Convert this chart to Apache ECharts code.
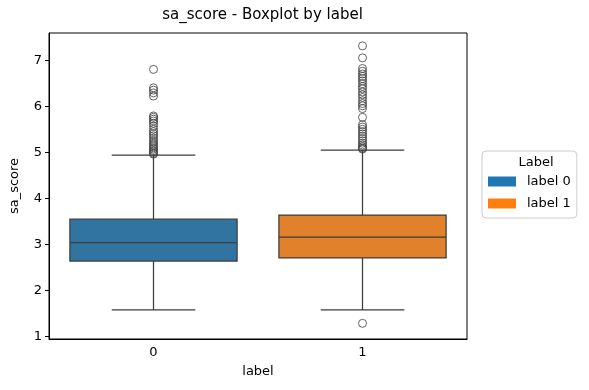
<!DOCTYPE html>
<html>
<head>
<meta charset="utf-8">
<script src="https://cdn.jsdelivr.net/npm/echarts@6/dist/echarts.min.js"></script>
<style>
html,body{margin:0;padding:0;background:#fff;}
#chart{width:589px;height:390px;}
</style>
</head>
<body>
<div id="chart"></div>
<script>
const categories = ['0', '1'];
const seriesNames = ['label 0', 'label 1'];
const legendColors = ['#1f77b4', '#ff7f0e'];
const boxFills = ['#3274a1', '#e1812c'];
const whiskerLow = [1.58, 1.58];
const q1 = [2.64, 2.71];
const median = [3.04, 3.16];
const q3 = [3.55, 3.64];
const whiskerHigh = [4.94, 5.05];
const outliers0 = [6.80, 6.40, 6.35, 6.29, 6.22, 5.79, 5.76, 5.72, 5.68, 5.63, 5.57, 5.50, 5.45, 5.40, 5.36, 5.31, 5.26, 5.22, 5.18, 5.14, 5.10, 5.07, 5.04, 5.01, 4.98, 4.96];
const outliers1 = [7.31, 7.05, 6.82, 6.76, 6.70, 6.65, 6.60, 6.55, 6.49, 6.43, 6.38, 6.31, 6.25, 6.19, 6.12, 6.06, 6.01, 5.95, 5.76, 5.60, 5.55, 5.50, 5.45, 5.40, 5.35, 5.30, 5.25, 5.20, 5.16, 5.12, 5.09, 5.07, 1.29];
const yTicks = [1, 2, 3, 4, 5, 6, 7];

const lineColor = '#3d3d3d';
const chart = echarts.init(document.getElementById('chart'));

function renderBox(params, api) {
  const cat = api.value(0);
  const lo = api.coord([cat, api.value(1)]);
  const b1 = api.coord([cat, api.value(2)]);
  const m = api.coord([cat, api.value(3)]);
  const b3 = api.coord([cat, api.value(4)]);
  const hi = api.coord([cat, api.value(5)]);
  const band = api.size([1, 0])[0];
  const w = band * 0.8;
  const cap = w / 2;
  const x = lo[0];
  const st = { stroke: lineColor, lineWidth: 1.25 };
  return {
    type: 'group',
    children: [
      { type: 'line', shape: { x1: x, y1: hi[1], x2: x, y2: b3[1] }, style: st },
      { type: 'line', shape: { x1: x, y1: b1[1], x2: x, y2: lo[1] }, style: st },
      { type: 'line', shape: { x1: x - cap / 2, y1: hi[1], x2: x + cap / 2, y2: hi[1] }, style: st },
      { type: 'line', shape: { x1: x - cap / 2, y1: lo[1], x2: x + cap / 2, y2: lo[1] }, style: st },
      { type: 'rect', shape: { x: x - w / 2, y: b3[1], width: w, height: b1[1] - b3[1] },
        style: { fill: boxFills[params.seriesIndex], stroke: lineColor, lineWidth: 1.25 } },
      { type: 'line', shape: { x1: x - w / 2, y1: m[1], x2: x + w / 2, y2: m[1] }, style: st }
    ]
  };
}

const boxSeries = seriesNames.map((name, i) => ({
  name: name,
  type: 'custom',
  renderItem: renderBox,
  itemStyle: { color: legendColors[i] },
  encode: { x: 0, y: [1, 2, 3, 4, 5] },
  data: [[i, whiskerLow[i], q1[i], median[i], q3[i], whiskerHigh[i]]],
  z: 2
}));

const outlierData = [];
outliers0.forEach(v => outlierData.push([0, v]));
outliers1.forEach(v => outlierData.push([1, v]));

chart.setOption({
  animation: false,
  textStyle: { fontFamily: 'DejaVu Sans' },
  title: [
    { text: 'sa_score - Boxplot by label', left: 257.5, top: 3, textAlign: 'center',
      textStyle: { fontSize: 15, fontWeight: 'normal', color: '#000', fontFamily: 'DejaVu Sans' } },
    { text: 'Label', left: 531, top: 151, textAlign: 'center',
      textStyle: { fontSize: 13, fontWeight: 'normal', color: '#000', fontFamily: 'DejaVu Sans' } }
  ],
  legend: {
    data: seriesNames,
    orient: 'vertical',
    left: 482, top: 151,
    padding: [24, 6, 8, 6],
    itemWidth: 28, itemHeight: 10, itemGap: 9,
    icon: 'rect',
    borderColor: '#cccccc', borderWidth: 1, borderRadius: 4,
    backgroundColor: '#fff',
    textStyle: { fontSize: 13, color: '#000', fontFamily: 'DejaVu Sans', padding: [0, 0, 0, 6] }
  },
  grid: { left: 48, right: 122, top: 33, bottom: 51, show: true, borderColor: '#000', borderWidth: 1, containLabel: false },
  xAxis: {
    type: 'category', data: categories, boundaryGap: true,
    name: 'label', nameLocation: 'middle', nameGap: 26,
    nameTextStyle: { fontSize: 13, color: '#000' },
    axisLine: { lineStyle: { color: '#000', width: 1 } },
    axisTick: { alignWithLabel: true, length: 4, lineStyle: { color: '#000' } },
    axisLabel: { fontSize: 13, color: '#000', margin: 7 },
    splitLine: { show: false }
  },
  yAxis: {
    type: 'value', min: 0.95, max: 7.59,
    name: 'sa_score', nameLocation: 'middle', nameGap: 28,
    nameTextStyle: { fontSize: 13, color: '#000' },
    axisLine: { show: true, lineStyle: { color: '#000', width: 1 } },
    axisTick: { show: true, length: 4, customValues: yTicks, lineStyle: { color: '#000' } },
    axisLabel: { fontSize: 13, color: '#000', margin: 7, customValues: yTicks },
    splitLine: { show: false }
  },
  series: boxSeries.concat([{
    name: 'outliers', type: 'scatter', data: outlierData,
    symbol: 'circle', symbolSize: 8,
    itemStyle: { color: 'rgba(255,255,255,0)', borderColor: lineColor, borderWidth: 1 },
    z: 3
  }])
});
</script>
</body>
</html>
